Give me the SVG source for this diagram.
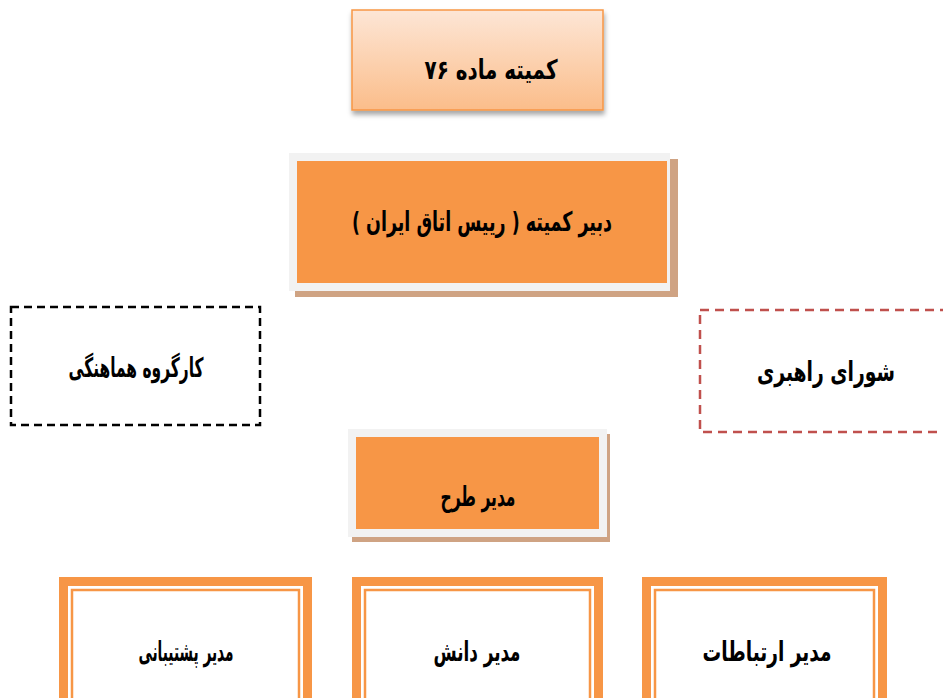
<svg xmlns="http://www.w3.org/2000/svg" width="943" height="698" viewBox="0 0 943 698">
<defs>
<linearGradient id="peach" x1="0" y1="0" x2="0" y2="1">
<stop offset="0" stop-color="#fde6d6"/>
<stop offset="1" stop-color="#fbbd8a"/>
</linearGradient>
<filter id="soft" x="-10%" y="-10%" width="120%" height="130%">
<feDropShadow dx="1" dy="4" stdDeviation="2.5" flood-color="#000" flood-opacity="0.35"/>
</filter>
</defs>
<style>
text{font-family:"DejaVu Sans","Noto Sans",sans-serif;font-weight:bold;fill:#000;text-anchor:middle;direction:rtl;unicode-bidi:embed;font-size:27px}
.frame{fill:#f2f2f2}
.shadow{fill:#cfa383}
.orange{fill:#f79646}
.dbl-out{fill:#fff;stroke:#f79646;stroke-width:9}
.dbl-in{fill:none;stroke:#f79646;stroke-width:2.5}
</style>
<rect width="943" height="698" fill="#fff"/>
<g id="connectors"/>
<g id="committee">
<rect x="352" y="10" width="251" height="100" fill="url(#peach)" stroke="#f79646" stroke-width="1.5" filter="url(#soft)"/>
<text x="491" y="79" textLength="133" lengthAdjust="spacingAndGlyphs">کمیته ماده ۷۶</text>
</g>
<g id="secretary">
<rect class="shadow" x="295" y="159" width="383" height="138"/>
<rect class="frame" x="289" y="153" width="381" height="138"/>
<rect class="orange" x="297" y="161" width="370" height="122"/>
<text x="482" y="231" textLength="260" lengthAdjust="spacingAndGlyphs">دبیر کمیته ( رییس اتاق ایران )</text>
</g>
<g id="taskforce">
<rect x="11" y="307" width="249" height="118" fill="#fff" stroke="#000" stroke-width="2.5" stroke-dasharray="8,5"/>
<text x="136" y="377" textLength="135" lengthAdjust="spacingAndGlyphs">کارگروه هماهنگی</text>
</g>
<g id="steering">
<rect x="700" y="310" width="260" height="122" fill="#fff" stroke="#c0504d" stroke-width="2.5" stroke-dasharray="9,6"/>
<text x="826" y="381" textLength="138" lengthAdjust="spacingAndGlyphs">شورای راهبری</text>
</g>
<g id="projectmanager">
<rect class="shadow" x="352" y="434" width="258" height="108"/>
<rect class="frame" x="348" y="429" width="259" height="108"/>
<rect class="orange" x="356" y="437" width="243" height="92"/>
<text x="478" y="506" textLength="75" lengthAdjust="spacingAndGlyphs">مدیر طرح</text>
</g>
<g id="support">
<rect class="dbl-out" x="63.5" y="581.5" width="244" height="130"/>
<rect class="dbl-in" x="72" y="590" width="227" height="120"/>
<text x="186" y="661" textLength="95" lengthAdjust="spacingAndGlyphs">مدیر پشتیبانی</text>
</g>
<g id="knowledge">
<rect class="dbl-out" x="356.5" y="581.5" width="242" height="130"/>
<rect class="dbl-in" x="365" y="590" width="225" height="120"/>
<text x="477" y="661" textLength="87" lengthAdjust="spacingAndGlyphs">مدیر دانش</text>
</g>
<g id="communications">
<rect class="dbl-out" x="646.5" y="581.5" width="236" height="130"/>
<rect class="dbl-in" x="655" y="590" width="219" height="120"/>
<text x="767" y="661" textLength="129" lengthAdjust="spacingAndGlyphs">مدیر ارتباطات</text>
</g>
</svg>
